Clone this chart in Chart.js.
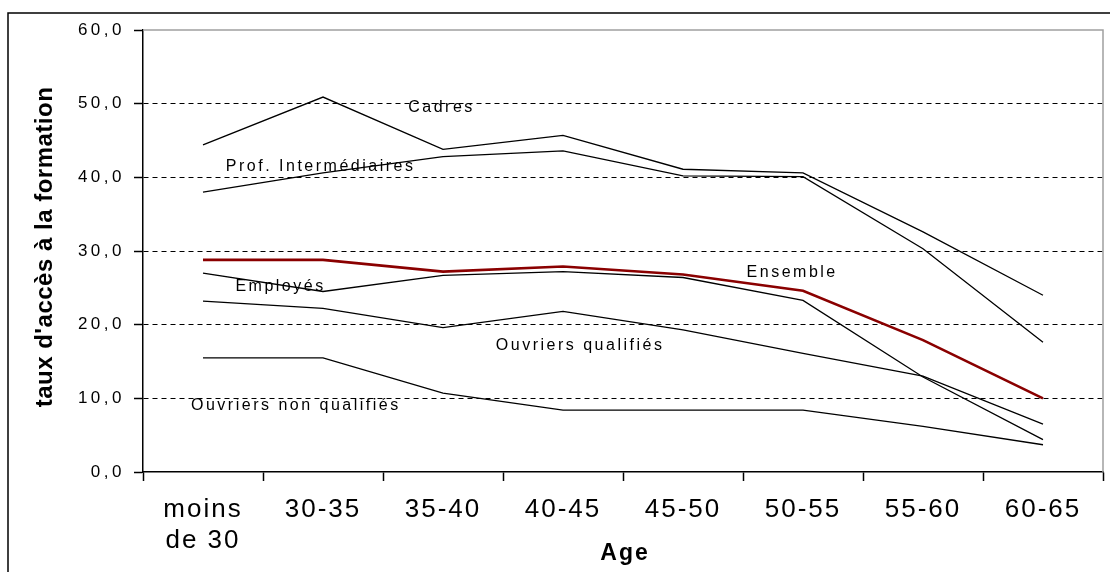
<!DOCTYPE html>
<html lang="fr">
<head>
<meta charset="utf-8">
<title>Taux d'accès à la formation par âge</title>
<script src="https://cdn.jsdelivr.net/npm/chart.js@4.4.1/dist/chart.umd.min.js"></script>
<style>
    html, body { margin: 0; padding: 0; background: #fff; }
    #wrap { width: 1110px; height: 572px; position: relative; }
</style>
</head>
<body>
<div id="wrap"><canvas id="chart"></canvas></div>
<script>
// Age groups and rates by socio-professional category
const ageGroups = [['moins', 'de 30'], '30-35', '35-40', '40-45', '45-50', '50-55', '55-60', '60-65'];
const yTickLabels = ['0,0', '10,0', '20,0', '30,0', '40,0', '50,0', '60,0'];

const cadres = [44.4, 50.9, 43.8, 45.7, 41.1, 40.6, 32.6, 24.0];
const profIntermediaires = [38.0, 40.6, 42.8, 43.6, 40.2, 40.1, 30.3, 17.6];
const ensemble = [28.8, 28.8, 27.2, 27.9, 26.8, 24.6, 17.9, 10.0];
const employes = [27.0, 24.5, 26.7, 27.2, 26.4, 23.3, 12.9, 4.4];
const ouvriersQualifies = [23.2, 22.2, 19.6, 21.8, 19.3, 16.1, 13.0, 6.5];
const ouvriersNonQualifies = [15.5, 15.5, 10.7, 8.4, 8.4, 8.4, 6.2, 3.7];

// Series names written next to the curves: [text, category position, value]
const curveLabels = [
    ['Cadres', 1.71, 49.4],
    ['Prof. Intermédiaires', 0.19, 41.4],
    ['Employés', 0.27, 25.2],
    ['Ensemble', 4.53, 27.1],
    ['Ouvriers qualifiés', 2.44, 17.1],
    ['Ouvriers non qualifiés', -0.1, 9.0]
];

const colors = {
    line: '#000000',
    ensemble: '#8a0000',
    frame: '#a0a0a0'
};

function lineSet(label, data, color, width) {
    return {
        label: label,
        data: data,
        borderColor: color,
        borderWidth: width,
        pointRadius: 0,
        tension: 0,
        fill: false
    };
}

// wrap a scale's label drawing so its text gets its own letter spacing
function spaceLabels(chart, scale, spacing) {
    if (scale._spaced) return;
    const orig = scale.drawLabels.bind(scale);
    scale.drawLabels = function (area) {
        const prev = chart.ctx.letterSpacing;
        chart.ctx.letterSpacing = spacing;
        orig(area);
        chart.ctx.letterSpacing = prev;
    };
    scale._spaced = true;
}

// Outer frame, plot frame, axis titles and curve names
const decorations = {
    id: 'decorations',
    beforeDraw(chart) {
        const ctx = chart.ctx;
        ctx.save();
        ctx.fillStyle = '#fff';
        ctx.fillRect(0, 0, chart.width, chart.height);
        ctx.strokeStyle = '#000';
        ctx.lineWidth = 1.5;
        ctx.strokeRect(8, 13, chart.width + 20, chart.height + 20);
        ctx.restore();
        spaceLabels(chart, chart.scales.x, '2px');
        spaceLabels(chart, chart.scales.y, '3.5px');
    },
    beforeDatasetsDraw(chart) {
        const ctx = chart.ctx;
        const a = chart.chartArea;
        ctx.save();
        ctx.strokeStyle = colors.frame;
        ctx.lineWidth = 1.5;
        ctx.beginPath();
        ctx.moveTo(a.left, a.top);
        ctx.lineTo(a.right, a.top);
        ctx.lineTo(a.right, a.bottom);
        ctx.stroke();
        ctx.restore();
    },
    afterDraw(chart) {
        const ctx = chart.ctx;
        const x = chart.scales.x;
        const y = chart.scales.y;
        const a = chart.chartArea;

        ctx.save();
        ctx.fillStyle = '#000';
        ctx.textBaseline = 'middle';
        ctx.textAlign = 'left';
        ctx.letterSpacing = '2.5px';
        ctx.font = '16px "Liberation Sans", Arial, sans-serif';
        curveLabels.forEach(([text, xi, v]) => {
            ctx.fillText(text, x.getPixelForValue(xi), y.getPixelForValue(v));
        });

        // y axis title
        ctx.letterSpacing = '0.5px';
        ctx.font = 'bold 24px "Liberation Sans", Arial, sans-serif';
        ctx.textAlign = 'center';
        ctx.translate(45, (a.top + a.bottom) / 2 - 4);
        ctx.rotate(-Math.PI / 2);
        ctx.fillText("taux d'accès à la formation", 0, 0);
        ctx.restore();

        // x axis title
        ctx.save();
        ctx.fillStyle = '#000';
        ctx.textBaseline = 'middle';
        ctx.textAlign = 'center';
        ctx.letterSpacing = '2px';
        ctx.font = 'bold 23px "Liberation Sans", Arial, sans-serif';
        ctx.fillText('Age', (a.left + a.right) / 2 + 2, 554);
        ctx.restore();
    }
};

const chart = new Chart(document.getElementById('chart'), {
    type: 'line',
    data: {
        labels: ageGroups,
        datasets: [
            lineSet('Ensemble', ensemble, colors.ensemble, 2.6),
            lineSet('Cadres', cadres, colors.line, 1.3),
            lineSet('Prof. Intermédiaires', profIntermediaires, colors.line, 1.3),
            lineSet('Employés', employes, colors.line, 1.3),
            lineSet('Ouvriers qualifiés', ouvriersQualifies, colors.line, 1.3),
            lineSet('Ouvriers non qualifiés', ouvriersNonQualifies, colors.line, 1.3)
        ]
    },
    options: {
        responsive: true,
        maintainAspectRatio: false,
        devicePixelRatio: 1,
        animation: false,
        layout: { padding: { top: 30, right: 7, left: 0, bottom: 0 } },
        plugins: {
            legend: { display: false },
            title: { display: false },
            tooltip: { enabled: false }
        },
        scales: {
            x: {
                offset: true,
                afterFit(scale) { scale.height = 100; },
                grid: {
                    offset: true,
                    drawOnChartArea: false,
                    tickLength: 9,
                    tickColor: '#000',
                    tickWidth: 1.5
                },
                border: { color: '#000', width: 1.5 },
                ticks: {
                    autoSkip: false,
                    maxRotation: 0,
                    padding: 13,
                    color: '#000',
                    font: { family: '"Liberation Sans", Arial, sans-serif', size: 26, lineHeight: 1.19 }
                }
            },
            y: {
                min: 0,
                max: 60,
                afterFit(scale) { scale.width = 143; },
                grid: {
                    color: c => (c.tick && (c.tick.value === 0 || c.tick.value === 60)) ? 'rgba(0,0,0,0)' : '#000',
                    lineWidth: 1,
                    tickLength: 9,
                    tickColor: '#000',
                    tickWidth: 1.5
                },
                border: { color: '#000', width: 1.5, dash: [5, 4] },
                ticks: {
                    stepSize: 10,
                    padding: 9,
                    color: '#000',
                    font: { family: '"Liberation Sans", Arial, sans-serif', size: 17 },
                    callback: (v, i) => yTickLabels[i]
                }
            }
        }
    },
    plugins: [decorations]
});
</script>
</body>
</html>
